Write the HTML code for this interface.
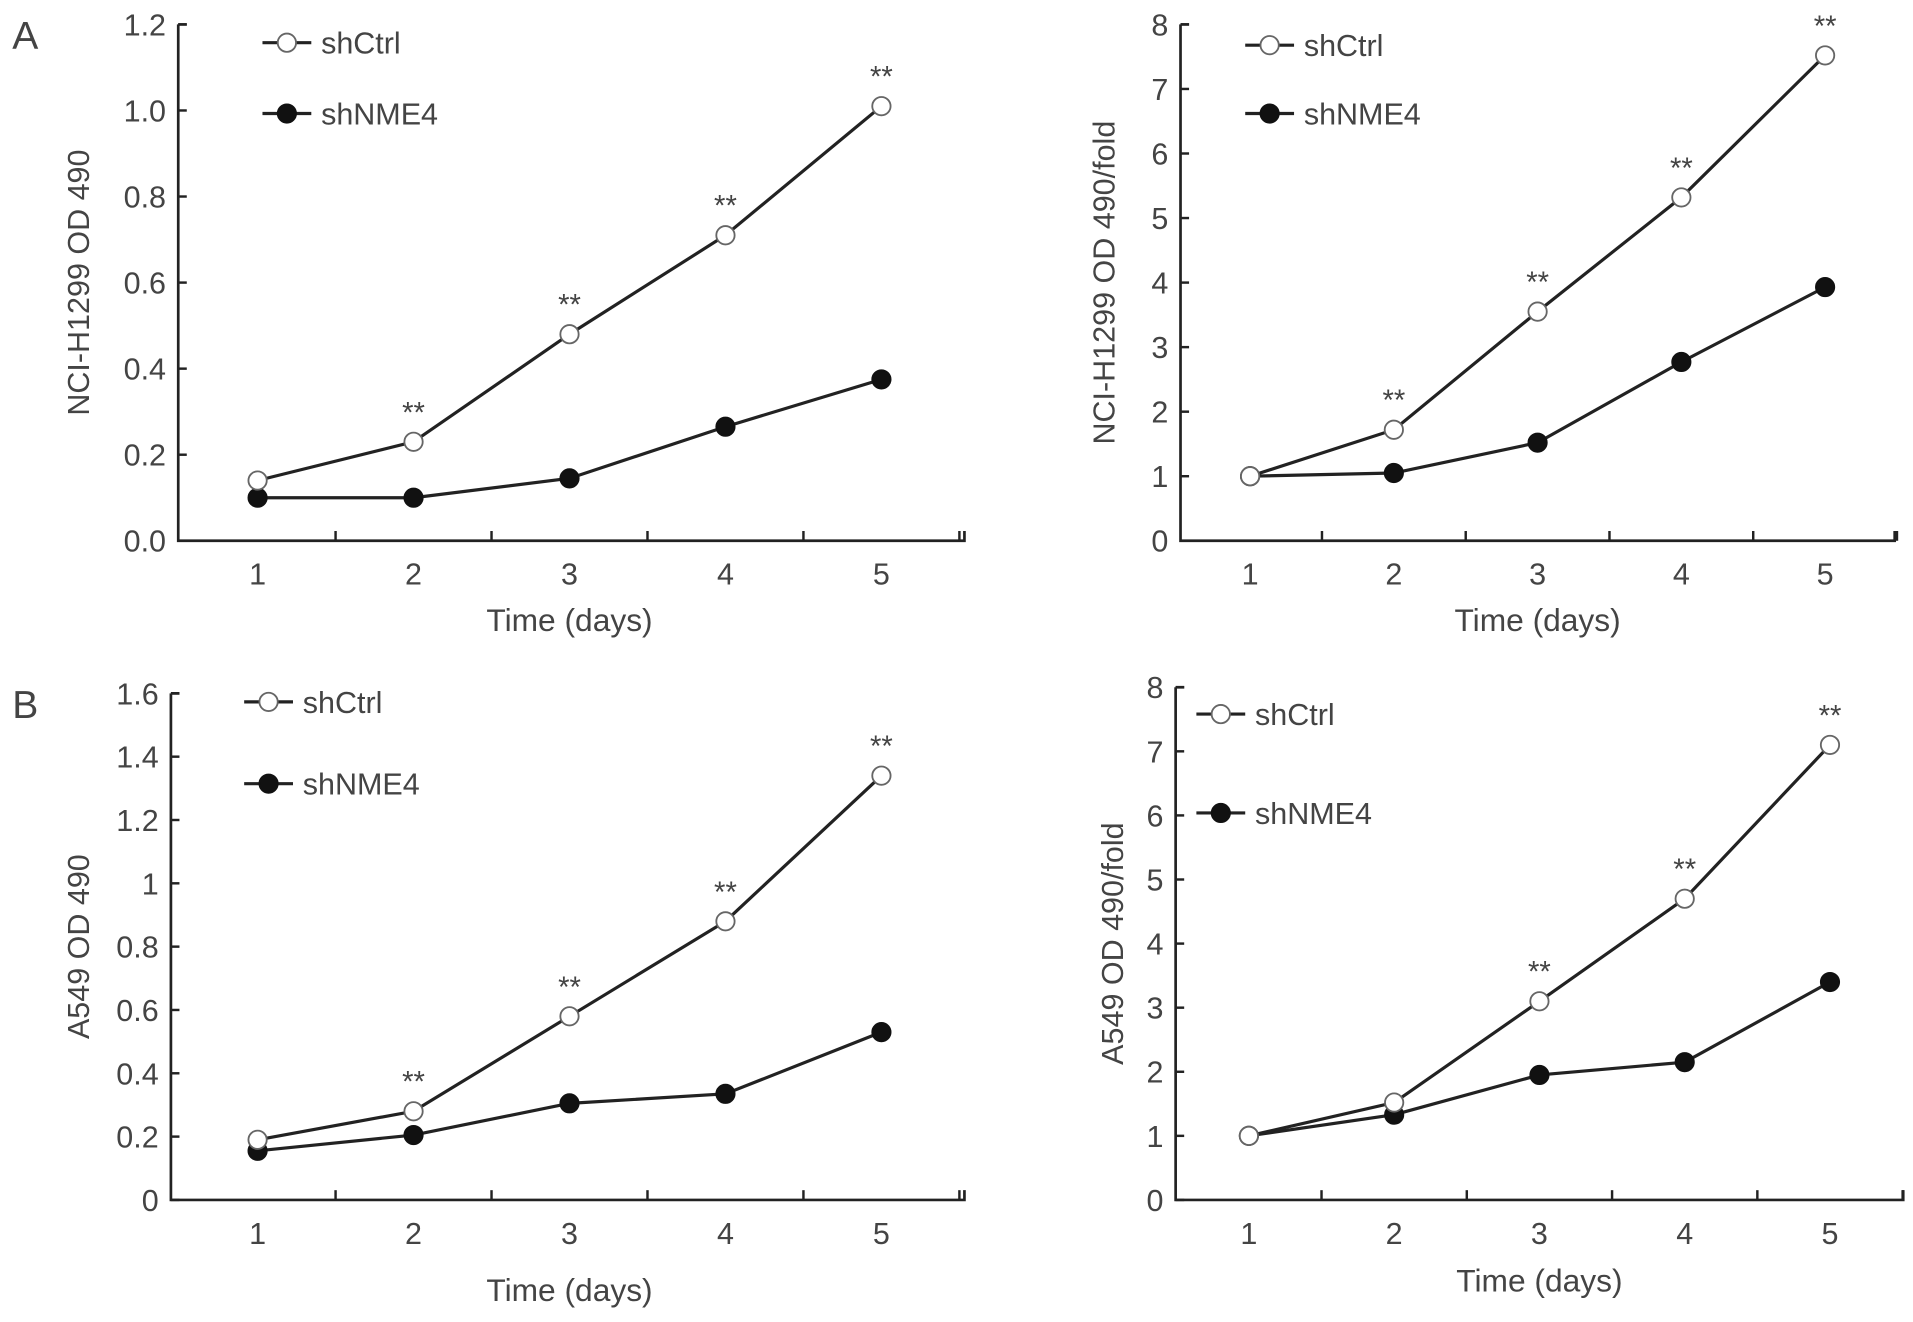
<!DOCTYPE html>
<html><head><meta charset="utf-8"><style>
html,body{margin:0;padding:0;background:#fff}
svg{display:block}
text{font-family:"Liberation Sans",sans-serif;fill:#444}
</style></head><body>
<svg id="fig" width="1913" height="1322" viewBox="0 0 1567 1083" preserveAspectRatio="none" xmlns="http://www.w3.org/2000/svg">
<text x="10" y="40" font-size="32">A</text>
<text x="10" y="588" font-size="32">B</text>
</svg>
<script>
const days = [1,2,3,4,5];
const a1Ctrl = [0.14,0.23,0.48,0.71,1.01];
const a1NME4 = [0.10,0.10,0.145,0.265,0.375];
const a1Stars = [false,true,true,true,true];
const a1Ticks = ["0.0","0.2","0.4","0.6","0.8","1.0","1.2"];
const a2Ctrl = [1,1.72,3.55,5.32,7.52];
const a2NME4 = [1,1.05,1.52,2.77,3.93];
const a2Stars = [false,true,true,true,true];
const a2Ticks = ["0","1","2","3","4","5","6","7","8"];
const b1Ctrl = [0.19,0.28,0.58,0.88,1.34];
const b1NME4 = [0.155,0.205,0.305,0.335,0.53];
const b1Stars = [false,true,true,true,true];
const b1Ticks = ["0","0.2","0.4","0.6","0.8","1","1.2","1.4","1.6"];
const b2Ctrl = [1,1.52,3.1,4.7,7.1];
const b2NME4 = [1,1.33,1.95,2.15,3.4];
const b2Stars = [false,false,true,true,true];
const b2Ticks = ["0","1","2","3","4","5","6","7","8"];

const NS="http://www.w3.org/2000/svg";
const svg=document.getElementById('fig');
function mk(tag,attrs,parent){const e=document.createElementNS(NS,tag);for(const k in attrs)e.setAttribute(k,attrs[k]);(parent||svg).appendChild(e);return e;}

function panel(p){
  const g=mk('g',{});
  
  
  const ymax=p.ticks.length-1;
  const yv=i=>p.ymaxVal*i/ymax;
  const Y=v=>p.y0-(v/p.ymaxVal)*(p.y0-p.y1);
  const X=d=>p.x1+(d-1)*(p.x5-p.x1)/4;
  const ax=mk('path',{d:`M${p.ax} ${p.y1}H${p.ax+7}M${p.ax} ${p.y1}V${p.y0}H${p.xend}v-8`,stroke:'#222','stroke-width':2.2,fill:'none'},g);
  
  
  p.ticks.forEach((t,i)=>{
    const y=Y(yv(i));
    mk('line',{x1:p.ax,x2:p.ax+7,y1:y,y2:y,stroke:'#222','stroke-width':2},g);
    const tx=mk('text',{x:p.ax-10,y:y+9,'font-size':25,'text-anchor':'end'},g);
    tx.textContent=t;
    
    
  });
  const step=(p.x5-p.x1)/4;
  for(let i=0;i<5;i++){
    const xt=X(days[i])+step/2;
    mk('line',{x1:xt,x2:xt,y1:p.y0,y2:p.y0-8,stroke:'#222','stroke-width':2},g);
    const tx=mk('text',{x:X(days[i]),y:p.y0+36,'font-size':25,'text-anchor':'middle'},g);
    tx.textContent=days[i];
    
    
  }
  const xt=mk('text',{x:(p.x1+p.x5)/2,y:p.titleY,'font-size':26,'text-anchor':'middle'},g);
  xt.textContent='Time (days)';
  
  
  const cy=(p.y0+p.y1)/2;
  const yt=mk('text',{x:p.ylx,y:cy,'font-size':25,'text-anchor':'middle',transform:`rotate(-90 ${p.ylx} ${cy})`},g);
  yt.textContent=p.ylabel;
  
  
  [[p.nme,'#111','series-shnme4'],[p.ctrl,'#fff','series-shctrl']].forEach(([vals,fill,nm])=>{
    const pts=vals.map((v,i)=>X(days[i])+','+Y(v)).join(' ');
    const l=mk('polyline',{points:pts,fill:'none',stroke:'#222','stroke-width':2.6},g);
    
    
    vals.forEach((v,i)=>{
      const c=mk('circle',{cx:X(days[i]),cy:Y(v),r:7.5,fill:fill,stroke:fill==='#fff'?'#666':'#111','stroke-width':1.5},g);
      
      
    });
  });
  p.stars.forEach((s,i)=>{
    if(!s)return;
    const t=mk('text',{x:X(days[i]),y:Y(p.ctrl[i])-16,'font-size':24,'text-anchor':'middle'},g);
    t.textContent='**';
    
    
  });
  [['shCtrl','#fff',p.legY1],['shNME4','#111',p.legY2]].forEach(([lab,fill,y])=>{
    const lg=mk('g',{},g);
    
    
    mk('line',{x1:p.legX,x2:p.legX+40,y1:y,y2:y,stroke:'#222','stroke-width':2.6},lg);
    mk('circle',{cx:p.legX+20,cy:y,r:7.5,fill:fill,stroke:fill==='#fff'?'#666':'#111','stroke-width':1.5},lg);
    const t=mk('text',{x:p.legX+48,y:y+9,'font-size':25},lg);
    t.textContent=lab;
  });
}
panel({name:'chart-a-nci-h1299-od',ax:146,y0:443,y1:20,xend:790,x1:211,x5:722,ymaxVal:1.2,ticks:a1Ticks,ctrl:a1Ctrl,nme:a1NME4,stars:a1Stars,titleY:517,ylx:73,ylabel:'NCI-H1299 OD 490',legX:215,legY1:35,legY2:93});
panel({name:'chart-a-nci-h1299-fold',ax:967,y0:443,y1:20,xend:1552,x1:1024,x5:1495,ymaxVal:8,ticks:a2Ticks,ctrl:a2Ctrl,nme:a2NME4,stars:a2Stars,titleY:517,ylx:913,ylabel:'NCI-H1299 OD 490/fold',legX:1020,legY1:37,legY2:93});
panel({name:'chart-b-a549-od',ax:140,y0:983,y1:568,xend:790,x1:211,x5:722,ymaxVal:1.6,ticks:b1Ticks,ctrl:b1Ctrl,nme:b1NME4,stars:b1Stars,titleY:1066,ylx:73,ylabel:'A549 OD 490',legX:200,legY1:575,legY2:642});
panel({name:'chart-b-a549-fold',ax:963,y0:983,y1:563,xend:1559,x1:1023,x5:1499,ymaxVal:8,ticks:b2Ticks,ctrl:b2Ctrl,nme:b2NME4,stars:b2Stars,titleY:1058,ylx:920,ylabel:'A549 OD 490/fold',legX:980,legY1:585,legY2:666});
</script>
</body></html>
